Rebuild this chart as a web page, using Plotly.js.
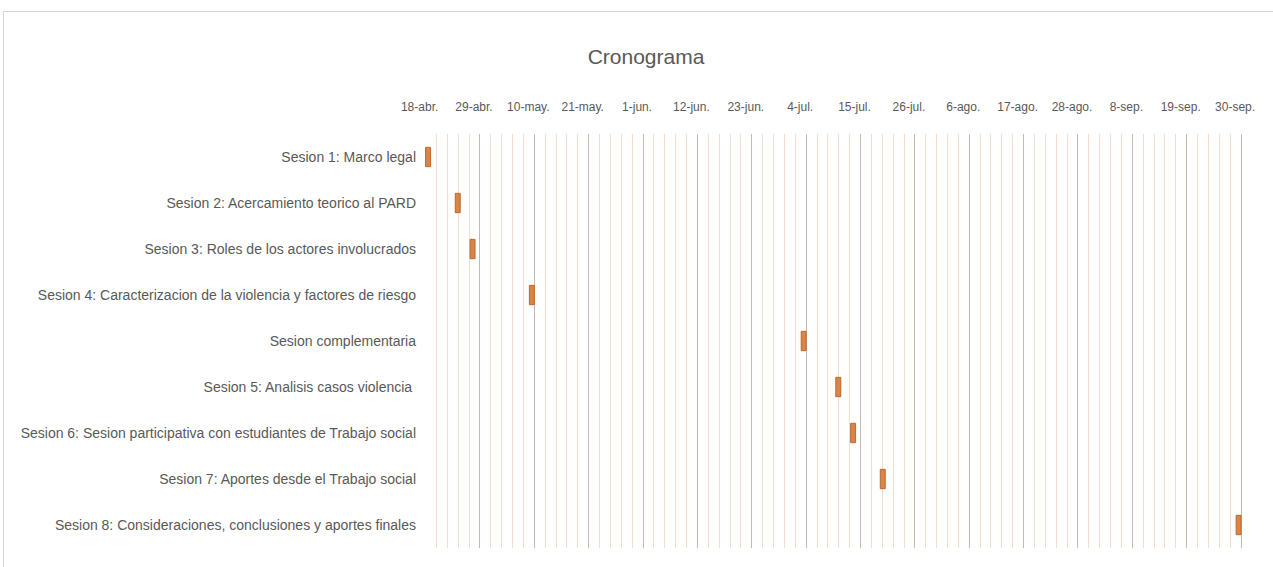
<!DOCTYPE html>
<html>
<head>
<meta charset="utf-8">
<script src="https://cdn.plot.ly/plotly-3.0.1.min.js"></script>
<style>
  html, body { margin: 0; padding: 0; background: #ffffff; }
  #frame { position: absolute; left: 3px; top: 11px; width: 1300px; height: 600px;
           border-top: 1px solid #d6d6d6; border-left: 1px solid #d6d6d6; box-sizing: border-box; }
  #chart { position: absolute; left: 0; top: 0; width: 1273px; height: 567px; }
</style>
</head>
<body>
<div id="frame"></div>
<div id="chart"></div>
<script>
const categories = [
  "Sesion 1: Marco legal",
  "Sesion 2: Acercamiento teorico al PARD",
  "Sesion 3: Roles de los actores involucrados",
  "Sesion 4: Caracterizacion de la violencia y factores de riesgo",
  "Sesion complementaria",
  "Sesion 5: Analisis casos violencia ",
  "Sesion 6: Sesion participativa con estudiantes de Trabajo social",
  "Sesion 7: Aportes desde el Trabajo social",
  "Sesion 8: Consideraciones, conclusiones y aportes finales"
];
const startDates = [
  "2022-04-18", "2022-04-24", "2022-04-27", "2022-05-09",
  "2022-07-03", "2022-07-10", "2022-07-13", "2022-07-19", "2022-09-29"
];
const durationDays = [1, 1, 1, 1, 1, 1, 1, 1, 1];

const tickDates = [
  "2022-04-18", "2022-04-29", "2022-05-10", "2022-05-21", "2022-06-01",
  "2022-06-12", "2022-06-23", "2022-07-04", "2022-07-15", "2022-07-26",
  "2022-08-06", "2022-08-17", "2022-08-28", "2022-09-08", "2022-09-19", "2022-09-30"
];
const tickLabels = [
  "18-abr.", "29-abr.", "10-may.", "21-may.", "1-jun.", "12-jun.", "23-jun.", "4-jul.",
  "15-jul.", "26-jul.", "6-ago.", "17-ago.", "28-ago.", "8-sep.", "19-sep.", "30-sep."
];

const DAY = 86400000;
const FONT = "Liberation Sans Narrow, Arial Narrow, Liberation Sans, sans-serif";

const trace = {
  type: "bar",
  orientation: "h",
  y: categories,
  base: startDates,
  x: durationDays.map(d => d * DAY),
  width: 0.42,
  marker: { color: "#dc8445", line: { color: "#b9692f", width: 1 } },
  hoverinfo: "y",
  showlegend: false
};

const layout = {
  width: 1273,
  height: 567,
  paper_bgcolor: "rgba(0,0,0,0)",
  plot_bgcolor: "rgba(0,0,0,0)",
  margin: { l: 425, r: 27, t: 134, b: 19 },
  font: { family: FONT, color: "#595959" },
  title: {
    text: "Cronograma",
    font: { family: FONT, size: 21, color: "#595959" },
    x: 646 / 1273, xref: "container", xanchor: "center",
    y: 1 - 57 / 567, yref: "container", yanchor: "middle"
  },
  xaxis: {
    type: "date",
    side: "top",
    range: ["2022-04-17 21:00", "2022-10-01"],
    tickmode: "array",
    tickvals: tickDates,
    ticktext: tickLabels,
    tickfont: { family: FONT, size: 12, color: "#595959" },
    ticklabelstandoff: 20,
    ticklabelshift: -6,
    showgrid: true,
    gridcolor: "#c9bab0",
    gridwidth: 1,
    minor: {
      dtick: 11 * DAY / 5,
      tick0: "2022-04-18",
      showgrid: true,
      gridcolor: "#f5dccb",
      gridwidth: 1
    },
    zeroline: false,
    showline: false,
    ticks: ""
  },
  yaxis: {
    type: "category",
    autorange: "reversed",
    tickfont: { family: FONT, size: 14, color: "#595959" },
    ticklabelstandoff: 8,
    showgrid: false,
    zeroline: false,
    showline: false,
    ticks: ""
  },
  bargap: 0.58
};

Plotly.newPlot("chart", [trace], layout, { displayModeBar: false, staticPlot: true });
</script>
</body>
</html>
